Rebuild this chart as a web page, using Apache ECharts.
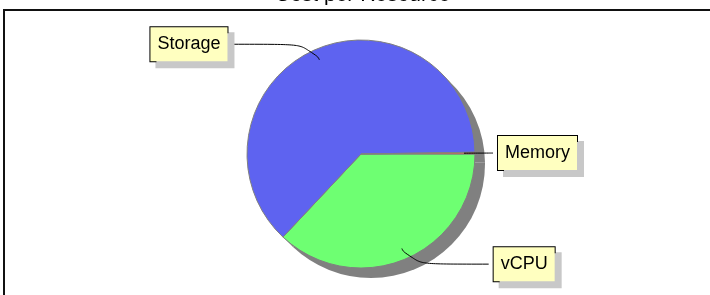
<!DOCTYPE html>
<html>
<head>
<meta charset="utf-8">
<title>Cost per Resource</title>
<script src="https://cdn.jsdelivr.net/npm/echarts@6/dist/echarts.min.js"></script>
<style>
  html, body { margin: 0; padding: 0; background: #fff; }
  #chart { width: 710px; height: 295px; }
</style>
</head>
<body>
<div id="chart"></div>
<script>
// data (share of total cost, %)
const resources = ['vCPU', 'Storage', 'Memory'];
const costs = [37.0, 62.75, 0.25];
const sliceColors = ['#6eff72', '#5e63f0', '#e0604f'];

const FONT = '"Liberation Sans", Arial, sans-serif';
const CENTER = [361, 154];
const RADIUS = 114;
const LEADER_RADIUS = 103;   // leader lines start a bit inside the slices
const SHADOW_OFFSET = 10;

const chart = echarts.init(document.getElementById('chart'));

const sliceData = resources.map((name, i) => ({
  name,
  value: costs[i],
  itemStyle: { color: sliceColors[i] }
}));

const shadowData = resources.map((name, i) => ({ name, value: costs[i] }));

const labelData = resources.map((name, i) => ({
  name,
  value: costs[i],
  // the tiny slice sits right next to its box
  labelLine: name === 'Memory' ? { length2: 12 } : undefined
}));

const option = {
  animation: false,
  title: {
    text: 'Cost per Resource',
    left: 275,
    top: -15,
    padding: 0,
    textStyle: { fontFamily: FONT, fontSize: 21, fontWeight: 'normal', color: '#000' }
  },
  graphic: [{
    type: 'rect',
    z: -10,
    shape: { x: 4, y: 10, width: 1000, height: 1000 },
    style: { fill: 'none', stroke: '#111', lineWidth: 2 }
  }],
  series: [
    {
      // drop shadow behind the whole pie
      type: 'pie',
      silent: true,
      z: 1,
      center: [CENTER[0] + SHADOW_OFFSET, CENTER[1] + SHADOW_OFFSET],
      radius: RADIUS,
      startAngle: 0,
      clockwise: true,
      label: { show: false },
      labelLine: { show: false },
      itemStyle: { color: '#808080', borderWidth: 0 },
      data: shadowData
    },
    {
      type: 'pie',
      silent: true,
      z: 2,
      center: CENTER,
      radius: RADIUS,
      startAngle: 0,
      clockwise: true,
      itemStyle: { borderColor: '#808080', borderWidth: 1 },
      label: { show: false },
      labelLine: { show: false },
      data: sliceData
    },
    {
      // invisible pie carrying the boxed labels and their leader lines
      type: 'pie',
      silent: true,
      z: 5,
      center: CENTER,
      radius: LEADER_RADIUS,
      startAngle: 0,
      clockwise: true,
      avoidLabelOverlap: false,
      itemStyle: { color: 'rgba(0,0,0,0)', borderWidth: 0 },
      label: {
        show: true,
        position: 'outside',
        formatter: '{b}',
        color: '#000',
        fontFamily: FONT,
        fontSize: 18,
        lineHeight: 20,
        backgroundColor: '#ffffc0',
        borderColor: '#000',
        borderWidth: 1,
        padding: [7, 7],
        shadowColor: '#c8c8c8',
        shadowOffsetX: 6,
        shadowOffsetY: 6,
        shadowBlur: 0,
        distanceToLabelLine: 5
      },
      labelLine: {
        show: true,
        length: 17,
        length2: 80,
        smooth: 0.8,
        lineStyle: { color: '#000', width: 1 }
      },
      data: labelData
    }
  ]
};

chart.setOption(option);
</script>
</body>
</html>
